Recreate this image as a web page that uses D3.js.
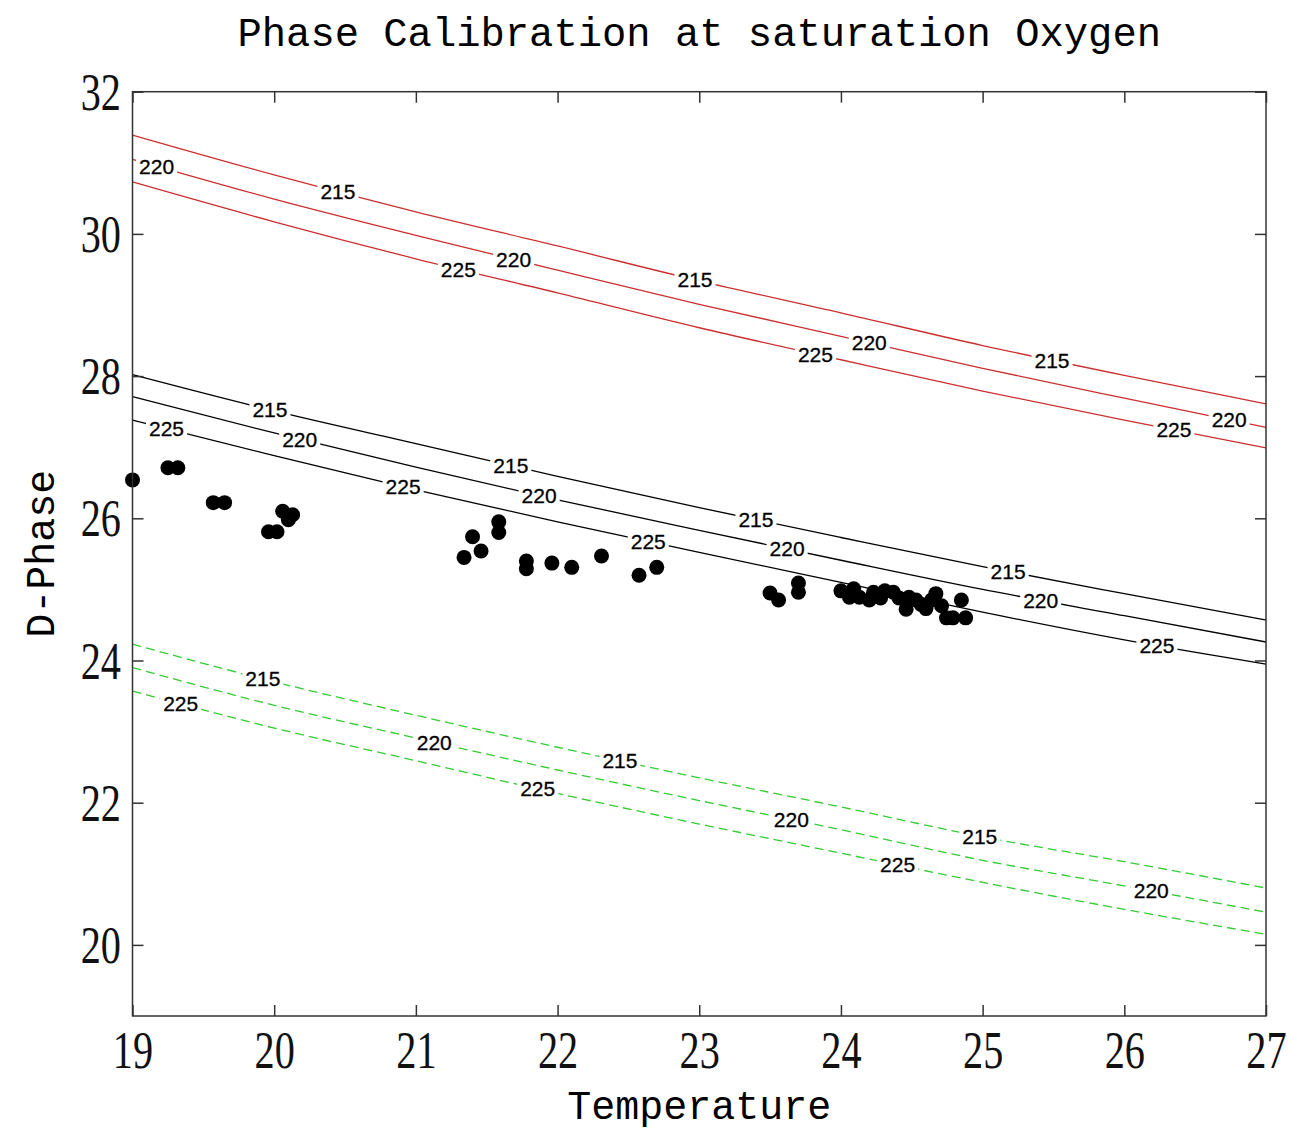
<!DOCTYPE html>
<html><head><meta charset="utf-8">
<script src="https://cdn.jsdelivr.net/npm/d3@7"></script>
<style>body{margin:0;background:#fff}</style>
</head><body>
<svg id="chart" width="1289" height="1131"></svg>
<script>
// ---- data ----
const chartTitle = "Phase Calibration at saturation Oxygen";
const xLabel = "Temperature";
const yLabel = "D-Phase";
const xTicks = [19,20,21,22,23,24,25,26,27];
const yTicks = [20,22,24,26,28,30,32];
const levels = [215,220,225];
const lineTemps = [19,20,21,22,23,24,25,26,27];

const red215 = [31.39,30.83,30.31,29.83,29.34,28.89,28.43,28.01,27.61];
const red220 = [31.05,30.49,29.98,29.49,29.01,28.56,28.11,27.69,27.28];
const red225 = [30.73,30.17,29.65,29.17,28.68,28.23,27.79,27.38,26.99];
const black215 = [28.02,27.51,27.05,26.59,26.15,25.73,25.32,24.94,24.57];
const black220 = [27.71,27.20,26.72,26.26,25.83,25.41,25.00,24.63,24.26];
const black225 = [27.38,26.88,26.40,25.95,25.52,25.10,24.68,24.29,23.95];
const green215 = [24.23,23.70,23.23,22.78,22.35,21.94,21.52,21.17,20.80];
const green220 = [23.90,23.37,22.91,22.46,22.03,21.62,21.19,20.83,20.46];
const green225 = [23.57,23.05,22.59,22.13,21.70,21.29,20.88,20.50,20.15];

// temperatures at which contour labels sit
const red215Labels = [20.45,22.97,25.49];
const red220Labels = [19.17,21.69,24.20,26.74];
const red225Labels = [21.30,23.82,26.35];
const black215Labels = [19.97,21.67,23.40,25.18];
const black220Labels = [20.18,21.87,23.62,25.41];
const black225Labels = [19.24,20.91,22.64,26.23];
const green215Labels = [19.92,22.44,24.98];
const green220Labels = [21.13,23.65,26.19];
const green225Labels = [19.34,21.86,24.40];

// measured points
const dotTemp = [19.00,19.25,19.32,19.57,19.65,19.96,20.02,20.06,20.10,20.13,
  21.34,21.40,21.46,21.585,21.585,21.78,21.78,21.96,22.10,22.31,22.575,22.70,
  23.50,23.56,23.70,23.70,
  24.00,24.06,24.09,24.13,24.20,24.23,24.28,24.31,24.37,24.41,24.46,24.48,24.53,24.565,24.60,24.64,24.67,24.71,24.745,24.79,24.85,24.88];
const dotPhase = [26.54,26.71,26.71,26.22,26.22,25.81,25.81,26.10,25.98,26.05,
  25.45,25.74,25.54,25.95,25.80,25.40,25.29,25.37,25.31,25.47,25.20,25.31,
  24.95,24.85,25.09,24.96,
  24.98,24.89,25.01,24.89,24.85,24.96,24.88,24.98,24.96,24.88,24.72,24.89,24.85,24.79,24.73,24.85,24.94,24.77,24.60,24.60,24.85,24.60];

// ---- chart ----
const svg = d3.select("#chart");
const L = 132.5, R = 1266, T = 91.7, B = 1016;
const x = d3.scaleLinear().domain([19,27]).range([L,R]);
const y = d3.scaleLinear().domain([19,32]).range([B,T]);

const families = [
  {color:"#cc2f2f", dash:null, lines:[red215,red220,red225], labels:[red215Labels,red220Labels,red225Labels]},
  {color:"#000000", dash:null, lines:[black215,black220,black225], labels:[black215Labels,black220Labels,black225Labels]},
  {color:"#33cc33", dash:"9,5", lines:[green215,green220,green225], labels:[green215Labels,green220Labels,green225Labels]}
];

const lineGen = d3.line().x((d,i)=>x(lineTemps[i])).y(d=>y(d)).curve(d3.curveMonotoneX);

function valueAt(vals, t){
  for(let i=0;i<lineTemps.length-1;i++){
    if(t>=lineTemps[i] && t<=lineTemps[i+1]){
      const f=(t-lineTemps[i])/(lineTemps[i+1]-lineTemps[i]);
      return vals[i]+(vals[i+1]-vals[i])*f;
    }
  }
  return vals[vals.length-1];
}

const gLines = svg.append("g");
families.forEach(fam=>{
  fam.lines.forEach(vals=>{
    gLines.append("path").attr("d", lineGen(vals))
      .attr("fill","none").attr("stroke",fam.color).attr("stroke-width",1.3)
      .attr("stroke-dasharray",fam.dash);
  });
});

const gLab = svg.append("g");
families.forEach(fam=>{
  fam.lines.forEach((vals,k)=>{
    fam.labels[k].forEach(t=>{
      const px = x(t), py = y(valueAt(vals,t));
      const g = gLab.append("g");
      const txt = g.append("text").attr("x",px).attr("y",py).attr("dy","0.36em")
        .attr("text-anchor","middle").attr("font-family","Liberation Sans, Arial, sans-serif")
        .attr("font-size",21).attr("fill","#000").attr("stroke","#000").attr("stroke-width",0.3)
        .text(levels[k]);
      const bb = txt.node().getBBox();
      g.insert("rect","text").attr("x",bb.x-3).attr("y",py-9).attr("width",bb.width+6).attr("height",18).attr("fill","#fff");
    });
  });
});

svg.append("g").selectAll("circle").data(dotTemp).join("circle")
  .attr("cx",(d)=>x(d)).attr("cy",(d,i)=>y(dotPhase[i])).attr("r",7.5).attr("fill","#000");

// frame and ticks
const axCol = "#333";
svg.append("rect").attr("x",L).attr("y",T).attr("width",R-L).attr("height",B-T)
  .attr("fill","none").attr("stroke",axCol).attr("stroke-width",1.5);

const tickFont = "Liberation Serif, serif";
const sx = 0.76;
const gx = svg.append("g").attr("transform",`translate(0,${B})`)
  .call(d3.axisBottom(x).tickValues(xTicks).tickSize(-11).tickSizeOuter(0).tickFormat(d3.format("d")));
const gxT = svg.append("g").attr("transform",`translate(0,${T})`)
  .call(d3.axisTop(x).tickValues(xTicks).tickSize(-11).tickSizeOuter(0).tickFormat(""));
const gy = svg.append("g").attr("transform",`translate(${L},0)`)
  .call(d3.axisLeft(y).tickValues(yTicks).tickSize(-11).tickSizeOuter(0).tickFormat(d3.format("d")));
const gyR = svg.append("g").attr("transform",`translate(${R},0)`)
  .call(d3.axisRight(y).tickValues(yTicks).tickSize(-11).tickSizeOuter(0).tickFormat(""));
[gx,gxT,gy,gyR].forEach(g=>{
  g.select(".domain").remove();
  g.selectAll(".tick line").attr("stroke",axCol).attr("stroke-width",1.5);
});
gx.selectAll(".tick text").attr("font-family",tickFont).attr("font-size",53).attr("fill","#111")
  .attr("y",52).attr("dy",null).attr("transform",`scale(${sx},1)`);
gy.selectAll(".tick text").attr("font-family",tickFont).attr("font-size",53).attr("fill","#111")
  .attr("x",-11.5/sx).attr("dy","0.33em").attr("transform",`scale(${sx},1)`);

const labFont = "Liberation Mono, Courier New, monospace";
svg.append("text").attr("x",(L+R)/2).attr("y",46).attr("text-anchor","middle")
  .attr("font-family",labFont).attr("font-size",40.5).attr("fill","#000").text(chartTitle);
svg.append("text").attr("x",(L+R)/2).attr("y",1119).attr("text-anchor","middle")
  .attr("font-family",labFont).attr("font-size",40).attr("fill","#000").text(xLabel);
svg.append("text").attr("transform",`translate(54,${(T+B)/2}) rotate(-90)`).attr("text-anchor","middle")
  .attr("font-family",labFont).attr("font-size",40).attr("fill","#000").text(yLabel);
</script>
</body></html>
